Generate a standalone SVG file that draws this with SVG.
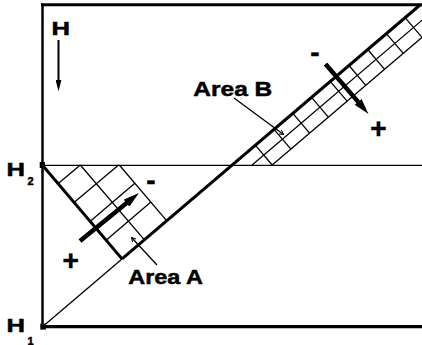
<svg xmlns="http://www.w3.org/2000/svg" width="422" height="345" viewBox="0 0 422 345">
<style>
.thin{stroke:#000;stroke-width:1.3;fill:none;stroke-linecap:butt}
.thick{stroke:#000;stroke-width:3;fill:none;stroke-linecap:square}
.arr{stroke:#000;stroke-width:4.5;fill:none}
.lbl{font-family:"Liberation Sans",Arial,Helvetica,sans-serif;font-weight:bold;fill:#000;stroke:#000;stroke-width:0.5}
</style>
<defs>
<marker id="ah" markerUnits="userSpaceOnUse" viewBox="0 0 16 9" refX="6" refY="4.5" markerWidth="16" markerHeight="9" orient="auto">
<path d="M0,0 L16,4.5 L0,9 z" fill="#000"/>
</marker>
<marker id="ahs" markerUnits="userSpaceOnUse" viewBox="0 0 12 6" refX="4" refY="3" markerWidth="12" markerHeight="6" orient="auto">
<path d="M0,0 L12,3 L0,6 z" fill="#000"/>
</marker>
<marker id="aht" markerUnits="userSpaceOnUse" viewBox="0 0 5 5" refX="4.5" refY="2.5" markerWidth="5" markerHeight="5" orient="auto">
<path d="M0,0 L4.5,2.5 L0,5" fill="none" stroke="#000" stroke-width="1"/>
</marker>
</defs>
<rect width="422" height="345" fill="#fff"/>

<g id="frame">
<line class="thick" x1="42.5" y1="4.7" x2="424" y2="4.7"/>
<line class="thick" x1="42.5" y1="4.7" x2="42.5" y2="326.7" style="stroke-width:2.5"/>
<line class="thick" x1="42.5" y1="326.7" x2="424" y2="326.7" style="stroke-width:3.3"/>
<line class="thin" x1="42.5" y1="165.3" x2="424" y2="165.3"/>
</g>

<g id="diagonal">
<line class="thin" x1="42.5" y1="326.7" x2="122" y2="258.9"/>
<line class="thick" x1="122" y1="258.9" x2="420" y2="5" style="stroke-linecap:butt"/>
<line class="thick" x1="42.5" y1="165.3" x2="122" y2="258.9" style="stroke-linecap:butt"/>
</g>

<g id="area-A">
<line class="thin" x1="58.0" y1="183.8" x2="80.3" y2="165"/>
<line class="thin" x1="74.0" y1="202.6" x2="118.6" y2="165"/>
<line class="thin" x1="90.0" y1="221.4" x2="134.8" y2="183.3"/>
<line class="thin" x1="106.1" y1="240.2" x2="150.9" y2="202.1"/>
<line class="thin" x1="80.3" y1="165" x2="144.4" y2="239.9"/>
<line class="thin" x1="119.3" y1="165" x2="166.8" y2="220.8"/>
</g>

<g id="area-B">
<line class="thin" x1="252.1" y1="165" x2="427" y2="16"/>
<line class="thin" x1="272.2" y1="165" x2="435.5" y2="25.9"/>
<line class="thin" x1="255.3" y1="145.2" x2="272.2" y2="165"/>
<line class="thin" x1="274.0" y1="129.3" x2="290.9" y2="149.1"/>
<line class="thin" x1="292.8" y1="113.3" x2="309.6" y2="133.1"/>
<line class="thin" x1="311.5" y1="97.4" x2="328.4" y2="117.2"/>
<line class="thin" x1="330.2" y1="81.4" x2="347.1" y2="101.2"/>
<line class="thin" x1="349.0" y1="65.5" x2="365.8" y2="85.3"/>
<line class="thin" x1="367.7" y1="49.5" x2="384.6" y2="69.3"/>
<line class="thin" x1="386.4" y1="33.6" x2="403.3" y2="53.4"/>
<line class="thin" x1="405.1" y1="17.6" x2="422.0" y2="37.4"/>
</g>

<g id="node-H2">
<rect x="39.7" y="162" width="5.2" height="6" fill="#000"/>
<text class="lbl" x="6.4" y="176" font-size="19" textLength="18.5" lengthAdjust="spacingAndGlyphs">H</text>
<text class="lbl" x="27.5" y="185" font-size="11">2</text>
</g>

<g id="node-H1">
<rect x="40.3" y="323.6" width="5.6" height="6" fill="#000"/>
<text class="lbl" x="6.4" y="331.7" font-size="19" textLength="18.5" lengthAdjust="spacingAndGlyphs">H</text>
<text class="lbl" x="27.5" y="344.5" font-size="11">1</text>
</g>

<g id="node-H">
<text class="lbl" x="51.4" y="35" font-size="19" textLength="18.5" lengthAdjust="spacingAndGlyphs">H</text>
</g>

<g id="label-area-A">
<text class="lbl" x="128.3" y="283.5" font-size="21" textLength="74.5" lengthAdjust="spacingAndGlyphs">Area A</text>
<text class="lbl" x="70.8" y="270" font-size="28" text-anchor="middle">+</text>
<text class="lbl" x="150.8" y="190" font-size="28" text-anchor="middle">-</text>
</g>

<g id="label-area-B">
<text class="lbl" x="193.3" y="96" font-size="21" textLength="79" lengthAdjust="spacingAndGlyphs">Area B</text>
<text class="lbl" x="378.5" y="138.3" font-size="28" text-anchor="middle">+</text>
<text class="lbl" x="315" y="62.4" font-size="28" text-anchor="middle">-</text>
</g>

<g id="connectors">
<line stroke="#000" stroke-width="2" x1="58.5" y1="40" x2="58.5" y2="83.5" marker-end="url(#ahs)"/>
<line class="arr" x1="80" y1="241" x2="131.2" y2="199.3" marker-end="url(#ah)"/>
<line class="arr" x1="325.5" y1="64" x2="362" y2="106.4" marker-end="url(#ah)"/>
<line class="thin" x1="157" y1="265" x2="131.5" y2="237.5" marker-end="url(#aht)"/>
<line class="thin" x1="234" y1="98" x2="283.5" y2="134.5" marker-end="url(#aht)"/>
</g>
</svg>
